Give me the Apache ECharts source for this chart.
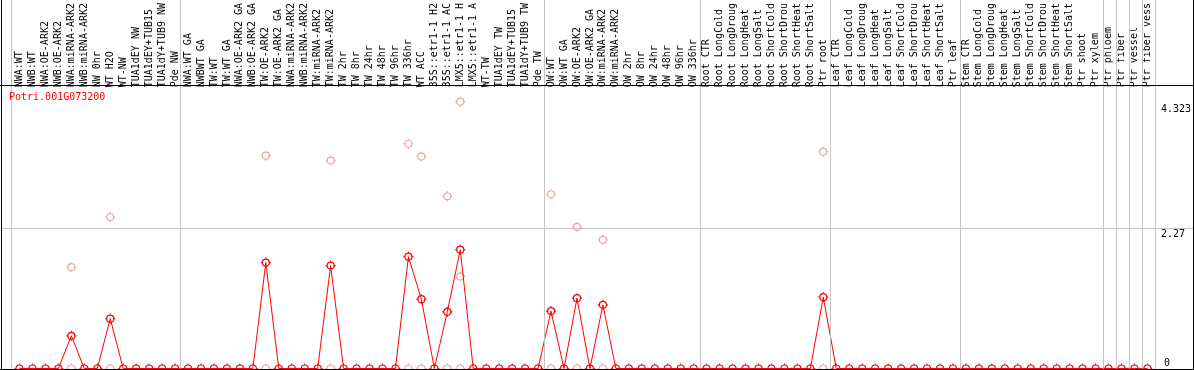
<!DOCTYPE html>
<html>
<head>
<meta charset="utf-8">
<script src="https://cdn.jsdelivr.net/npm/echarts@6/dist/echarts.min.js"></script>
<style>
  html, body { margin: 0; padding: 0; background: #fff; }
  #main { width: 1194px; height: 370px; }
</style>
</head>
<body>
<div id="main"></div>
<script>
const geneName = 'Potri.001G073200';

const categories = [
  'NWA:WT', 'NWB:WT', 'NWA:OE-ARK2', 'NWB:OE-ARK2', 'NWA:miRNA-ARK2', 'NWB:miRNA-ARK2',
  'NW 0hr', 'WT H2O', 'WT-NW', 'TUA1dEY NW', 'TUA1dEY+TUB15', 'TUA1dY+TUB9 NW', 'Pde NW',
  'NWA:WT GA', 'NWBWT GA', 'TW:WT', 'TW:WT GA', 'NWA:OE-ARK2 GA', 'NWB:OE-ARK2 GA',
  'TW:OE-ARK2', 'TW:OE-ARK2 GA', 'NWA:miRNA-ARK2', 'NWB:miRNA-ARK2', 'TW:miRNA-ARK2',
  'TW:miRNA-ARK2', 'TW 2hr', 'TW 8hr', 'TW 24hr', 'TW 48hr', 'TW 96hr', 'TW 336hr', 'WT ACC',
  '35S::etr1-1 H2', '35S::etr1-1 AC', 'LMX5::etr1-1 H', 'LMX5::etr1-1 A', 'WT-TW', 'TUA1dEY TW',
  'TUA1dEY+TUB15', 'TUA1dY+TUB9 TW', 'Pde TW',
  'OW:WT', 'OW:WT GA', 'OW:OE-ARK2', 'OW:OE-ARK2 GA', 'OW:miRNA-ARK2', 'OW:miRNA-ARK2',
  'OW 2hr', 'OW 8hr', 'OW 24hr', 'OW 48hr', 'OW 96hr', 'OW 336hr',
  'Root CTR', 'Root LongCold', 'Root LongDroug', 'Root LongHeat', 'Root LongSalt',
  'Root ShortCold', 'Root ShortDrou', 'Root ShortHeat', 'Root ShortSalt', 'Ptr root',
  'Leaf CTR', 'Leaf LongCold', 'Leaf LongDroug', 'Leaf LongHeat', 'Leaf LongSalt',
  'Leaf ShortCold', 'Leaf ShortDrou', 'Leaf ShortHeat', 'Leaf ShortSalt', 'Ptr leaf',
  'Stem CTR', 'Stem LongCold', 'Stem LongDroug', 'Stem LongHeat', 'Stem LongSalt',
  'Stem ShortCold', 'Stem ShortDrou', 'Stem ShortHeat', 'Stem ShortSalt', 'Ptr shoot', 'Ptr xylem',
  'Ptr phloem', 'Ptr fiber', 'Ptr vessel', 'Ptr fiber vess',
];

// mean expression per sample (red line)
const meanValues = [
  0, 0, 0, 0, 0.535, 0, 0, 0.816, 0, 0, 0, 0, 0,
  0, 0, 0, 0, 0, 0, 1.735, 0, 0, 0, 0, 1.686, 0, 0, 0, 0, 0, 1.832, 1.135, 0, 0.929, 1.946,
  0, 0, 0, 0, 0, 0,
  0.94, 0, 1.151, 0, 1.043, 0, 0, 0, 0, 0, 0, 0,
  0, 0, 0, 0, 0, 0, 0, 0, 0, 1.168,
  0, 0, 0, 0, 0, 0, 0, 0, 0, 0,
  0, 0, 0, 0, 0, 0, 0, 0, 0, 0, 0,
  0, 0, 0, 0,
];

// single replicates [sample index, value] (light circles)
const replicatePoints = [
  [4, 1.659], [4, 0], [7, 2.481], [7, 0], [19, 3.486], [19, 0], [24, 3.405], [24, 0],
  [30, 3.681], [30, 0], [31, 3.47], [31, 0], [33, 2.821], [33, 0],
  [34, 4.37], [34, 1.508], [34, 0], [41, 2.854], [41, 0], [43, 2.319], [43, 0],
  [45, 2.108], [45, 0], [62, 3.551], [62, 0],
];

// sample index where each group starts (gray dividers)
const groupBreaks = [0, 13, 41, 53, 63, 73, 84, 85, 86, 87, 88];
const yMax = 4.54;
const gridValues = [2.27];
const yTickLabels = [2.27, 4.323];
const zeroLabel = [0];

const mono = 'DejaVu Sans Mono';
const marker = 'path://M1.5,5A3.5,3.5 0 1,1 8.5,5A3.5,3.5 0 1,1 1.5,5M5,0V1.5M5,8.5V10M0,5H1.5M8.5,5H10';

const myChart = echarts.init(document.getElementById('main'));

const option = {
  animation: false,
  title: {
    text: geneName,
    left: 9,
    top: 92,
    padding: 0,
    textStyle: { color: '#ff0000', fontFamily: mono, fontSize: 10, fontWeight: 'normal' },
  },
  grid: [
    { left: 13, top: 88.5, width: 1144, height: 280 },
    { left: 11.5, top: 0, width: 1144, height: 370 },
    { left: 1, right: 1, top: 88.5, height: 280 },
    { left: 13, top: 88.5, width: 1144, height: 280 },
  ],
  xAxis: [
    {
      gridIndex: 0,
      type: 'category',
      data: categories,
      position: 'top',
      axisLine: { show: false },
      axisTick: { show: false },
      splitLine: { show: false },
      axisLabel: { interval: 0, rotate: 90, margin: 4, color: '#000', fontFamily: mono, fontSize: 10 },
    },
    { gridIndex: 1, type: 'value', min: 0, max: categories.length, show: false },
    { gridIndex: 2, type: 'value', min: 0, max: 1, show: false },
    { gridIndex: 3, type: 'value', min: 0, max: 1, show: false },
  ],
  yAxis: [
    {
      gridIndex: 0,
      type: 'value',
      min: 0,
      max: yMax,
      position: 'right',
      axisLine: { show: false },
      axisTick: { show: false },
      splitLine: { show: false },
      axisLabel: {
        customValues: yTickLabels,
        verticalAlign: 'top',
        margin: 7,
        color: '#000',
        fontFamily: mono,
        fontSize: 10,
      },
    },
    { gridIndex: 1, type: 'value', min: 0, max: 1, show: false },
    { gridIndex: 2, type: 'value', min: 0, max: yMax, show: false },
    {
      gridIndex: 3,
      type: 'value',
      min: 0,
      max: yMax,
      position: 'right',
      axisLine: { show: false },
      axisTick: { show: false },
      splitLine: { show: false },
      axisLabel: {
        customValues: zeroLabel,
        verticalAlign: 'bottom',
        margin: 7,
        color: '#000',
        fontFamily: mono,
        fontSize: 10,
      },
    },
  ],
  series: [
    {
      type: 'line',
      xAxisIndex: 1,
      yAxisIndex: 1,
      data: [],
      silent: true,
      z: 1,
      markLine: {
        silent: true,
        symbol: 'none',
        label: { show: false },
        lineStyle: { color: '#c4c4c4', width: 1, type: 'solid' },
        data: groupBreaks.map((v) => ({ xAxis: v })),
      },
    },
    {
      type: 'line',
      xAxisIndex: 2,
      yAxisIndex: 2,
      data: [],
      silent: true,
      z: 1,
      markLine: {
        silent: true,
        symbol: 'none',
        label: { show: false },
        lineStyle: { color: '#c4c4c4', width: 1, type: 'solid' },
        data: gridValues.map((v) => ({ yAxis: v })),
      },
    },
    {
      name: 'replicates',
      type: 'scatter',
      xAxisIndex: 0,
      yAxisIndex: 0,
      data: replicatePoints,
      symbol: marker,
      symbolSize: 10,
      z: 3,
      itemStyle: { color: 'rgba(255,255,255,0)', borderColor: '#e89090', borderWidth: 1.2 },
    },
    {
      name: 'mean',
      type: 'line',
      xAxisIndex: 0,
      yAxisIndex: 0,
      data: meanValues,
      symbol: marker,
      symbolSize: 10,
      showAllSymbol: true,
      z: 4,
      lineStyle: { color: '#ff0000', width: 1 },
      itemStyle: { color: 'rgba(255,255,255,0)', borderColor: '#ff0000', borderWidth: 1.2 },
    },
  ],
  graphic: [
    { type: 'line', z: 100, shape: { x1: 0, y1: 85.5, x2: 1194, y2: 85.5 }, style: { stroke: '#000', lineWidth: 1 } },
    { type: 'line', z: 100, shape: { x1: 0, y1: 369.5, x2: 1194, y2: 369.5 }, style: { stroke: '#000', lineWidth: 1 } },
    { type: 'line', z: 100, shape: { x1: 1.5, y1: 0, x2: 1.5, y2: 370 }, style: { stroke: '#000', lineWidth: 1 } },
    { type: 'line', z: 100, shape: { x1: 1193.5, y1: 0, x2: 1193.5, y2: 370 }, style: { stroke: '#000', lineWidth: 1 } },
  ],
};
myChart.setOption(option);
</script>
</body>
</html>
